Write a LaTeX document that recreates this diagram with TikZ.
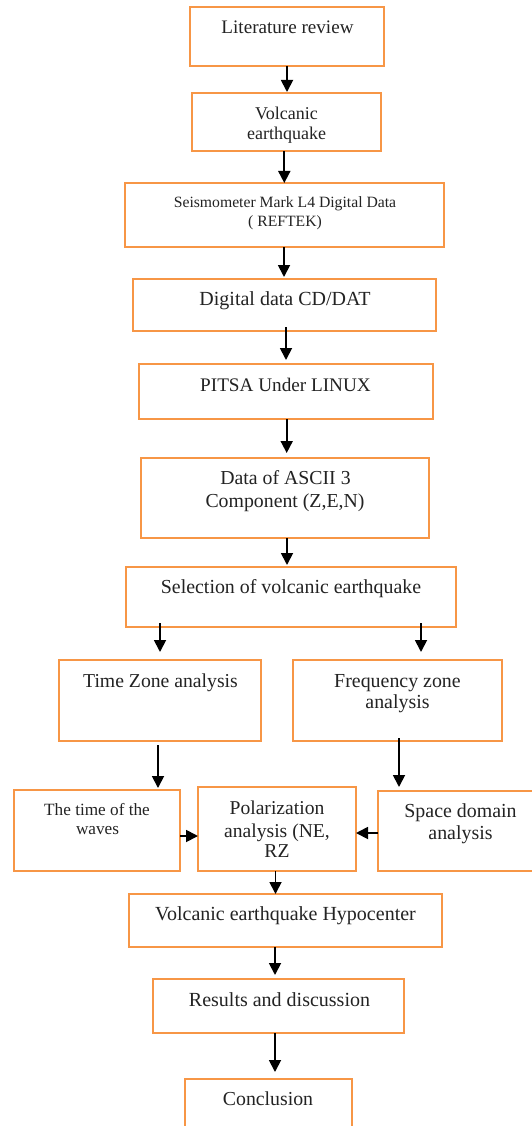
\documentclass[tikz,border=0pt]{standalone}
\usepackage{fontspec}
\setmainfont{Liberation Serif}
\usetikzlibrary{arrows.meta}
\definecolor{boxorange}{RGB}{247,150,70}
\definecolor{txtgray}{RGB}{35,35,35}
\newcommand\fsz[1]{\fontsize{#1}{#1}\selectfont}
\tikzset{
  box/.style={draw=boxorange, line width=2.2pt, rectangle, inner sep=0pt, outer sep=0pt, fill=white},
  txt/.style={anchor=base, inner sep=0pt, text=txtgray},
  arr/.style={-{Triangle[width=12pt,length=12pt]}, line width=1.8pt, black},
}
\begin{document}
\begin{tikzpicture}[x=1pt,y=-1pt]
\useasboundingbox (0,0) rectangle (532,1126);
\fill[white] (0,0) rectangle (532,1126);
\clip (0,0) rectangle (532,1126);

% boxes
\node[box, minimum width=194pt, minimum height=59pt] (b1) at (287,36.5) {};
\node[box, minimum width=189pt, minimum height=58pt] (b2) at (286.5,122) {};
\node[box, minimum width=319pt, minimum height=64pt] (b3) at (284.5,215) {};
\node[box, minimum width=303pt, minimum height=52pt] (b4) at (284.5,305) {};
\node[box, minimum width=294pt, minimum height=55pt] (b5) at (286,391.5) {};
\node[box, minimum width=288pt, minimum height=80pt] (b6) at (285,498) {};
\node[box, minimum width=330pt, minimum height=60pt] (b7) at (291,597) {};
\node[box, minimum width=202pt, minimum height=81pt] (b8) at (160,700.5) {};
\node[box, minimum width=209pt, minimum height=81pt] (b9) at (397.5,700.5) {};
\node[box, minimum width=166pt, minimum height=81pt] (b10) at (97,830.5) {};
\node[box, minimum width=158pt, minimum height=84pt] (b11) at (277,829) {};
\node[box, minimum width=165pt, minimum height=80pt] (b12) at (460.5,831) {};
\node[box, minimum width=313pt, minimum height=53pt] (b13) at (285.5,920.5) {};
\node[box, minimum width=251pt, minimum height=54pt] (b14) at (278.5,1006) {};
\node[box, minimum width=167pt, minimum height=61pt] (b15) at (268.5,1109.5) {};

% texts
\node[txt, font=\fsz{19.1}] (t1) at (287.5,34) {Literature review};
\node[txt, font=\fsz{18}] (t2a) at (286.5,120) {Volcanic};
\node[txt, font=\fsz{18}] (t2b) at (286.5,139.5) {earthquake};
\node[txt, font=\fsz{15.7}] (t3a) at (285,207.5) {Seismometer Mark L4 Digital Data};
\node[txt, font=\fsz{15.7}] (t3b) at (285,226) {( REFTEK)};
\node[txt, font=\fsz{20}] (t4) at (285,305.5) {Digital data CD/DAT};
\node[txt, font=\fsz{19.2}] (t5) at (285.5,391) {PITSA Under LINUX};
\node[txt, font=\fsz{19.8}] (t6a) at (285.5,484) {Data of ASCII 3};
\node[txt, font=\fsz{19.8}] (t6b) at (285,507) {Component (Z,E,N)};
\node[txt, font=\fsz{19.9}] (t7) at (291,593) {Selection of volcanic earthquake};
\node[txt, font=\fsz{19.7}] (t8) at (160.5,687) {Time Zone analysis};
\node[txt, font=\fsz{19.9}] (t9a) at (397.5,687) {Frequency zone};
\node[txt, font=\fsz{19.9}] (t9b) at (397.5,708) {analysis};
\node[txt, font=\fsz{17.2}] (t10a) at (97,815) {The time of the};
\node[txt, font=\fsz{17.2}] (t10b) at (97.5,834) {waves};
\node[txt, font=\fsz{19.6}] (t11a) at (277,814) {Polarization};
\node[txt, font=\fsz{19.6}] (t11b) at (277,837) {analysis (NE,};
\node[txt, font=\fsz{19.6}] (t11c) at (277,857) {RZ};
\node[txt, font=\fsz{19.9}] (t12a) at (460.5,817) {Space domain};
\node[txt, font=\fsz{19.9}] (t12b) at (460.5,839) {analysis};
\node[txt, font=\fsz{20}] (t13) at (285.5,920.5) {Volcanic earthquake Hypocenter};
\node[txt, font=\fsz{20}] (t14) at (279.5,1006) {Results and discussion};
\node[txt, font=\fsz{19.8}] (t15) at (268,1105) {Conclusion};

% arrows
\draw[arr, shorten >=1pt] (b1.south) -- (b1.south |- b2.north);
\draw[arr] ([xshift=-2.2pt]b2.south) -- ([xshift=-2.2pt]b2.south |- b3.north);
\draw[arr, shorten >=2pt] ([xshift=-0.5pt]b3.south) -- ([xshift=-0.5pt]b3.south |- b4.north);
\draw[arr, shorten <=-4pt, shorten >=4pt] ([xshift=1.5pt]b4.south) -- ([xshift=1.5pt]b4.south |- b5.north);
\draw[arr, shorten >=5pt] ([xshift=0.7pt]b5.south) -- ([xshift=0.7pt]b5.south |- b6.north);
\draw[arr, shorten >=2pt] ([xshift=2pt]b6.south) -- ([xshift=2pt]b6.south |- b7.north);
\draw[arr, shorten <=-4pt, shorten >=8pt] (b7.south -| b8.north) -- (b8.north);
\draw[arr, shorten <=-4pt, shorten >=8pt] ([xshift=23.5pt]b9.north |- b7.south) -- ([xshift=23.5pt]b9.north);
\draw[arr, shorten <=4pt, shorten >=2pt] ([xshift=-2pt]b8.south) -- ([xshift=-2pt]b8.south |- b10.north);
\draw[arr, shorten <=-3pt, shorten >=4pt] ([xshift=1.5pt]b9.south) -- ([xshift=1.5pt]b9.south |- b12.north);
\draw[arr] ([yshift=-5.5pt]b10.east) -- ([yshift=-5.5pt]b10.east -| b11.west);
\draw[arr] ([yshift=-2pt]b12.west) -- ([yshift=-2pt]b12.west -| b11.east);
\draw[arr] ([xshift=-1.5pt]b11.south) -- ([xshift=-1.5pt]b11.south |- b13.north);
\draw[arr, shorten >=4pt] ([xshift=-10.5pt]b13.south) -- ([xshift=-10.5pt]b13.south |- b14.north);
\draw[arr, shorten >=7pt] ([xshift=-3.5pt]b14.south) -- ([xshift=-3.5pt]b14.south |- b15.north);
\end{tikzpicture}
\end{document}
